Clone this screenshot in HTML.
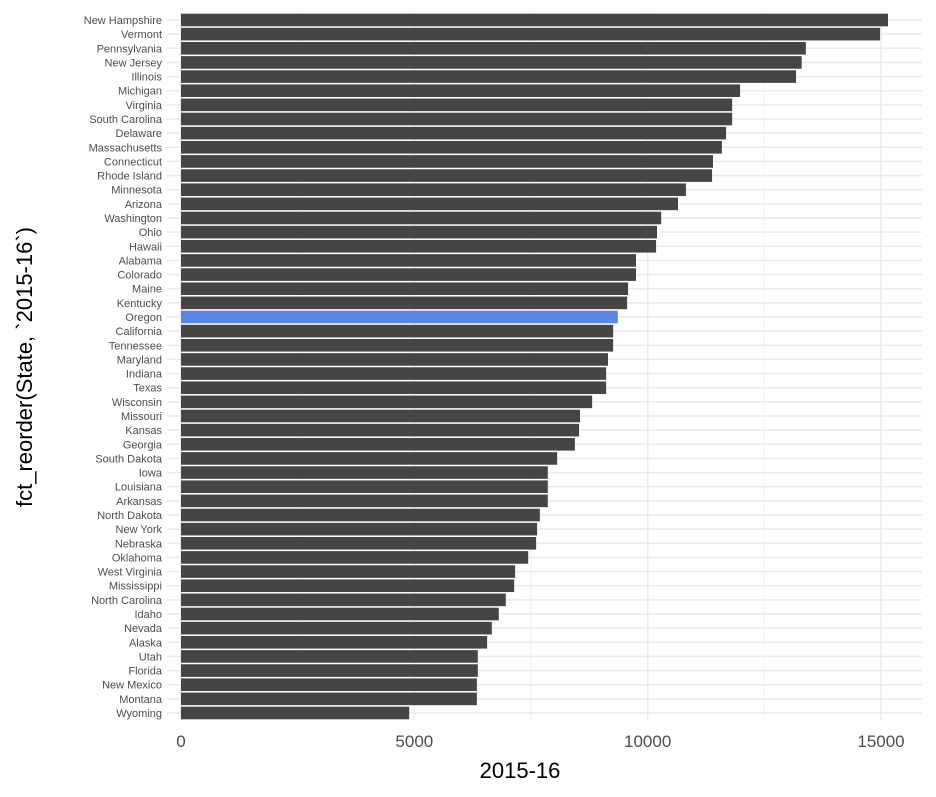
<!DOCTYPE html>
<html><head><meta charset="utf-8"><style>
body{margin:0;background:#fff;font-family:"Liberation Sans",Arial,sans-serif}
</style></head><body>
<svg id="chart" width="936" height="792" xmlns="http://www.w3.org/2000/svg" font-family="Liberation Sans, Arial, sans-serif"></svg>
<script>
const states=["New Hampshire","Vermont","Pennsylvania","New Jersey","Illinois","Michigan","Virginia","South Carolina","Delaware","Massachusetts","Connecticut","Rhode Island","Minnesota","Arizona","Washington","Ohio","Hawaii","Alabama","Colorado","Maine","Kentucky","Oregon","California","Tennessee","Maryland","Indiana","Texas","Wisconsin","Missouri","Kansas","Georgia","South Dakota","Iowa","Louisiana","Arkansas","North Dakota","New York","Nebraska","Oklahoma","West Virginia","Mississippi","North Carolina","Idaho","Nevada","Alaska","Utah","Florida","New Mexico","Montana","Wyoming"];
const values=[15150,14980,13390,13300,13180,11980,11810,11810,11680,11590,11400,11380,10820,10650,10290,10200,10180,9750,9750,9580,9560,9360,9260,9260,9150,9110,9110,8810,8550,8530,8440,8060,7860,7860,7860,7690,7630,7610,7440,7160,7140,6960,6810,6660,6560,6360,6360,6340,6340,4890];
const majorTicks=[0,5000,10000,15000];
const minorTicks=[2500,7500,12500];
const highlight="Oregon";
const svg=document.getElementById('chart');
const NS="http://www.w3.org/2000/svg";
const x=v=>181+v*(881-181)/15000;
const y=i=>20+i*(713-20)/49;
function mk(t,a,p){const e=document.createElementNS(NS,t);for(const k in a)e.setAttribute(k,a[k]);(p||svg).appendChild(e);return e;}
const grid=mk('g',{});


minorTicks.forEach(t=>mk('line',{x1:x(t),x2:x(t),y1:13,y2:720,stroke:'#f2f2f2','stroke-width':1},grid));
majorTicks.forEach(t=>mk('line',{x1:x(t),x2:x(t),y1:13,y2:720,stroke:'#ebebeb','stroke-width':1.5},grid));
states.forEach((s,i)=>mk('line',{x1:167,x2:922,y1:y(i),y2:y(i),stroke:'#ebebeb','stroke-width':1.5},grid));
states.forEach((s,i)=>{
 const r=mk('rect',{x:x(0),y:y(i)-6.3,width:x(values[i])-x(0),height:12.6,fill:s===highlight?'#5a86e8':'#454545'});
 
 
 const t=mk('text',{x:162,y:y(i)+4,'text-anchor':'end','font-size':11,fill:'#4d4d4d'});
 t.textContent=s;
 
 
});
majorTicks.forEach(tk=>{
 const t=mk('text',{x:x(tk),y:747,'text-anchor':'middle','font-size':17,fill:'#4d4d4d'});
 t.textContent=tk;
 
 
});
const xt=mk('text',{x:520,y:778,'text-anchor':'middle','font-size':22,fill:'#000'});
xt.textContent='2015-16';


const yt=mk('text',{x:0,y:0,'text-anchor':'middle','font-size':22,fill:'#000',transform:'translate(32,367) rotate(-90)'});
yt.textContent='fct_reorder(State, `2015-16`)';


</script>
</body></html>
